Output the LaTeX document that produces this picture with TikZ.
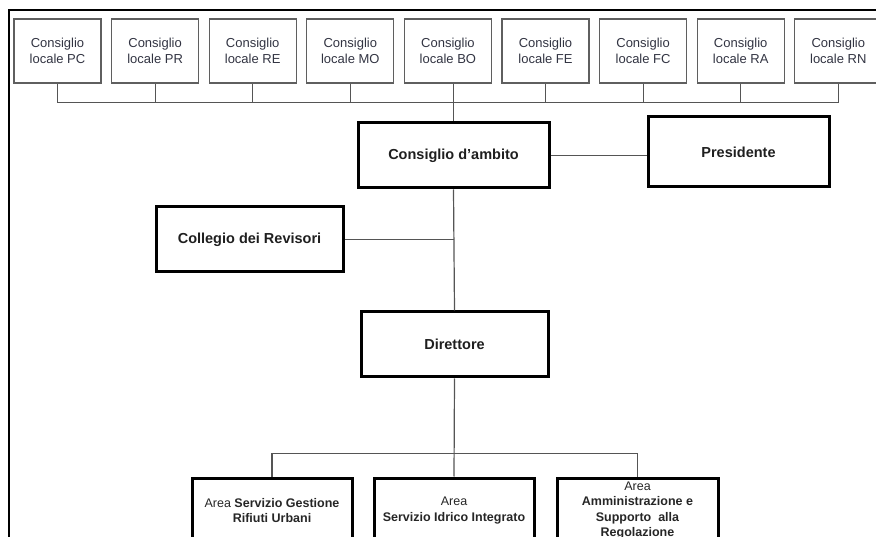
\documentclass[tikz,border=0pt]{standalone}
\usepackage{fontspec}
\setmainfont{Liberation Sans}
\definecolor{localgray}{RGB}{95,95,95}
\definecolor{localtext}{RGB}{50,52,66}
\definecolor{conngray}{RGB}{85,85,85}
\begin{document}
\begin{tikzpicture}[x=1pt,y=-1pt,
  local/.style={draw=localgray, line width=1.2pt, minimum width=87pt, minimum height=64pt,
    inner sep=0pt, align=center, text=localtext, font=\fontsize{13}{16.5}\selectfont},
  mainbox/.style={draw=black, line width=3pt, minimum height=65pt, inner sep=0pt,
    align=center, text=black!88, font=\bfseries\fontsize{14.5}{17}\selectfont},
  areabox/.style={draw=black, line width=3pt, minimum width=160pt, minimum height=65pt,
    inner sep=0pt, align=center, text=black!85, font=\fontsize{12.5}{15.5}\selectfont},
  conn/.style={draw=conngray, line width=1.2pt}]
\useasboundingbox (0,0) rectangle (876,537);
\clip (0,0) rectangle (876,537);
% frame
\draw[line width=2pt] (9,537) -- (9,10) -- (876,10);
% local councils
\foreach \n [count=\i from 0] in {PC,PR,RE,MO,BO,FE,FC,RA,RN}
  \node[local] (\n) at ({57.5+97.6*\i},51) {Consiglio\\locale \n};
% main boxes
\node[mainbox, minimum width=191pt] (amb) at (453.5,155.5) {Consiglio d'ambito};
\node[mainbox, minimum width=181pt, minimum height=70pt] (pres) at (738.5,152) {Presidente};
\node[mainbox, minimum width=187pt] (coll) at (249.5,239.5) {Collegio dei Revisori};
\node[mainbox, minimum width=187pt] (dir) at (454.5,344.5) {Direttore};
% areas
\node[areabox] (aleft) at (272,510.5) {Area \textbf{Servizio Gestione}\\\textbf{Rifiuti Urbani}};
\node[areabox] (amid) at (454,510.5) {Area\\\textbf{Servizio Idrico Integrato}};
\node[areabox, minimum width=161pt] (aright) at (637.5,510.5) {Area\\\textbf{Amministrazione e}\\\textbf{Supporto\ \ alla}\\\textbf{Regolazione}};
% connectors
\draw[conn] (PC.south) -- ++(0,19) -| (RN.south);
\foreach \n in {PR,RE,MO,FE,FC,RA}
  \draw[conn] (\n.south) -- ++(0,19);
\draw[conn] (BO.south -| amb.north) -- (amb.north);
\draw[conn] (amb.east) -- (pres.west |- amb.east);
\draw[conn] (amb.south) -- (dir.north);
\draw[conn] (coll.east) -- (coll.east -| amb.south);
\draw[conn] (dir.south) -- (amid.north);
\draw[conn] (aleft.north) -- ++(0,-23) -| (aright.north);
\end{tikzpicture}
\end{document}
